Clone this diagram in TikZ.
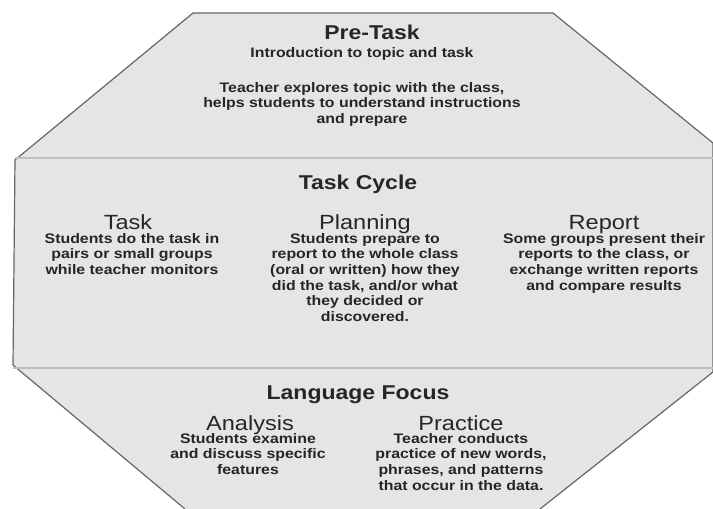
\documentclass[tikz,border=0pt]{standalone}
\usepackage{fontspec}
\setmainfont[FakeStretch=1.15]{Liberation Sans}
\begin{document}
\begin{tikzpicture}[x=1pt,y=-1pt,
  every node/.style={inner sep=0pt, text=black!85, align=center},
  head/.style={font=\fontsize{20}{22}\selectfont\bfseries, anchor=base},
  sub/.style={font=\fontsize{20.5}{22}\selectfont, anchor=base},
  body/.style={font=\fontsize{13.8}{15.6}\selectfont\bfseries, anchor=north},
  edge/.style={draw=black!60, line width=1.2pt},
  sep/.style={draw=black!25, line width=1.2pt}]
\useasboundingbox (0,0) rectangle (713,509);
\coordinate (tl) at (193,13);
\coordinate (tr) at (553,13);
\coordinate (rt) at (713,143);
\coordinate (rb) at (713,372);
\coordinate (br) at (540,509);
\coordinate (bl) at (185,509);
\coordinate (lb) at (13,365);
\coordinate (lt) at (15,160);
\fill[black!10] (tl) -- (tr) -- (rt) -- (rb) -- (br) -- (bl) -- (lb) -- (lt) -- cycle;
\draw[edge] (br) -- (rb) -- (rt) -- (tr) -- (tl) -- (lt) -- (lb) -- (bl);
\coordinate (s1l) at (15,158);
\coordinate (s1r) at (713,158);
\coordinate (s2l) at (13,368);
\coordinate (s2r) at (713,368);
\draw[sep] (s1l) -- (s1r);
\draw[sep] (s2l) -- (s2r);

\node[head] (pretask) at (372,39) {Pre-Task};
\node[body] (intro) at (362,47) {Introduction to topic and task};
\node[body] (explore) at (362,82) {Teacher explores topic with the class,\\helps students to understand instructions\\and prepare};

\node[head] (cycle) at (358,189) {Task Cycle};
\node[sub] (task) at (128,229) {Task};
\node[sub] (planning) at (365,229) {Planning};
\node[sub] (report) at (604,229) {Report};
\node[body] (taskb) at (132,233) {Students do the task in\\pairs or small groups\\while teacher monitors};
\node[body] (planb) at (365,233) {Students prepare to\\report to the whole class\\(oral or written) how they\\did the task, and/or what\\they decided or\\discovered.};
\node[body] (repb) at (604,233) {Some groups present their\\reports to the class, or\\exchange written reports\\and compare results};

\node[head] (focus) at (358,399) {Language Focus};
\node[sub] (analysis) at (250,430) {Analysis};
\node[sub] (practice) at (461,430) {Practice};
\node[body] (anab) at (248,433) {Students examine\\and discuss specific\\features};
\node[body] (pracb) at (461,433) {Teacher conducts\\practice of new words,\\phrases, and patterns\\that occur in the data.};
\end{tikzpicture}
\end{document}
